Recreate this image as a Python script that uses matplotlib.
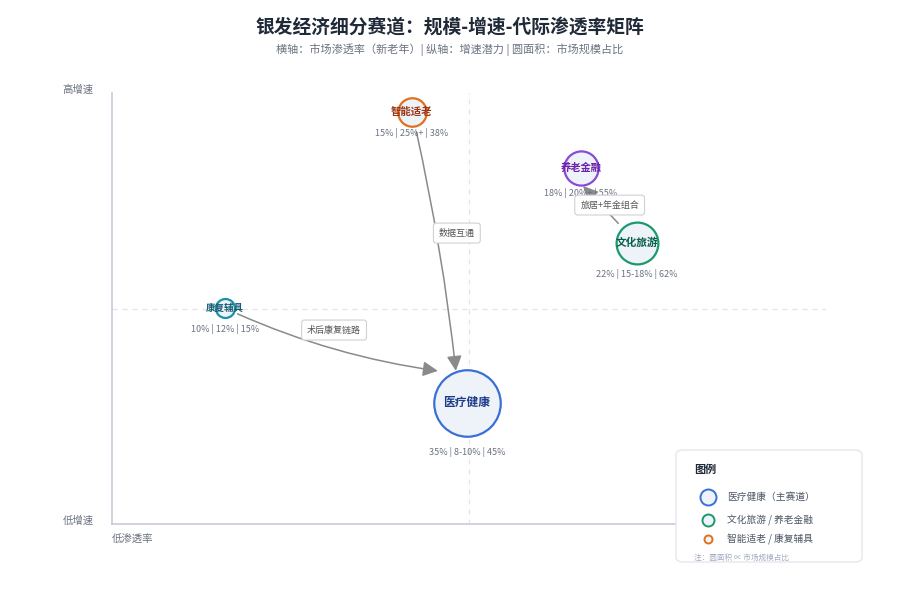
import matplotlib
matplotlib.use("Agg")
import matplotlib.pyplot as plt
from matplotlib.patches import FancyBboxPatch
from matplotlib.lines import Line2D

plt.rcParams['font.family'] = ['Noto Sans CJK SC', 'DejaVu Sans']

# ---- data ----
names = ["医疗健康", "智能适老", "养老金融", "文化旅游", "康复辅具"]
pos_x = [49.7, 42.0, 65.7, 73.5, 15.8]     # position on penetration axis
pos_y = [28.1, 95.6, 82.6, 65.2, 50.1]     # position on growth axis
share = [35, 15, 18, 22, 10]               # market scale share (%)
growth_txt = ["8-10%", "25%+", "20%+", "15-18%", "12%"]
penetration = [45, 38, 55, 62, 15]
edge_colors = ["#3a6fd8", "#e0701e", "#8a4ad8", "#1a9a6c", "#1a93a8"]
text_colors = ["#1e3a8a", "#9a3412", "#6b21a8", "#065f46", "#155e75"]
label_sizes = [8.5, 7.5, 7.4, 7.7, 6.8]

links_from = ["康复辅具", "智能适老", "文化旅游"]
links_to = ["医疗健康", "医疗健康", "养老金融"]
links_label = ["术后康复链路", "数据互通", "旅居+年金组合"]
# style / placement for links
label_xy = [(31.1, 45.0), (48.3, 67.5), (69.7, 74.0)]
end_offset_px = [(-29, -32), (-11, -32), (2, 18)]   # arrow tip relative to target centre (image px)
start_gap_px = [14, 20, 27]
link_rad = [0.075, -0.03, 0.0]

legend_items = ["医疗健康（主赛道）", "文化旅游 / 养老金融", "智能适老 / 康复辅具"]

# ---- figure ----
fig = plt.figure(figsize=(9, 6), dpi=100)
fig.patch.set_facecolor("white")
ax = fig.add_axes([112/900, 76/600, 714/900, 431/600])
ax.set_xlim(0, 100)
ax.set_ylim(0, 100)
ax.set_xticks([]); ax.set_yticks([])
for s in ["top", "right"]:
    ax.spines[s].set_visible(False)
for s in ["left", "bottom"]:
    ax.spines[s].set_color("#c9c9dc")
    ax.spines[s].set_linewidth(1.2)

ax.axvline(50, color="#e2e2ea", lw=0.9, ls=(0, (4, 4)), zorder=0)
ax.axhline(50, color="#e2e2ea", lw=0.9, ls=(0, (4, 4)), zorder=0)

PX_X = 100 / 714.0   # data units per pixel
PX_Y = 100 / 431.0

def rad_px(v):
    return v * 0.95

idx = {n: i for i, n in enumerate(names)}

# circles
for i, n in enumerate(names):
    r = rad_px(share[i])
    d_pt = 2 * r * 0.72
    ax.scatter([pos_x[i]], [pos_y[i]], s=d_pt**2, facecolor="#eef2f9",
               edgecolor=edge_colors[i], linewidth=1.6, zorder=3)
    ax.text(pos_x[i], pos_y[i], n, ha="center", va="center",
            fontsize=label_sizes[i], fontweight="bold", color=text_colors[i], zorder=5)
    stat = f"{share[i]}% | {growth_txt[i]} | {penetration[i]}%"
    off_px = max(1.47 * r, 21)
    ax.annotate(stat, (pos_x[i], pos_y[i]), xytext=(0, -off_px * 0.72),
                textcoords="offset points", ha="center", va="center",
                fontsize=6.5, color="#6b7280", zorder=5)

# links
for k in range(len(links_from)):
    ia, ib = idx[links_from[k]], idx[links_to[k]]
    ex = pos_x[ib] + end_offset_px[k][0] * PX_X
    ey = pos_y[ib] - end_offset_px[k][1] * PX_Y
    ax.annotate("", xy=(ex, ey), xytext=(pos_x[ia], pos_y[ia]),
                arrowprops=dict(arrowstyle="-|>,head_length=0.9,head_width=0.45",
                                color="#8a8a8a", lw=1.1,
                                shrinkA=start_gap_px[k] * 0.72, shrinkB=0,
                                connectionstyle=f"arc3,rad={link_rad[k]}"),
                zorder=2)
    lx, ly = label_xy[k]
    ax.text(lx, ly, links_label[k], ha="center", va="center", fontsize=6.5, color="#555555",
            zorder=6,
            bbox=dict(boxstyle="round,pad=0.6,rounding_size=0.3", fc="white",
                      ec="#cfd0d8", lw=0.8))

# axis end labels
fig.text(78/900, 1 - 90/600, "高增速", ha="center", va="center", fontsize=7.5, color="#6b7280")
fig.text(78/900, 1 - 521/600, "低增速", ha="center", va="center", fontsize=7.5, color="#6b7280")
fig.text(133/900, 1 - 540/600, "低渗透率", ha="center", va="center", fontsize=7.5, color="#6b7280")

# titles
fig.text(0.5, 1 - 27/600, "银发经济细分赛道：规模-增速-代际渗透率矩阵", ha="center", va="center",
         fontsize=13.5, fontweight="bold", color="#1f2937")
fig.text(0.5, 1 - 50/600, "横轴：市场渗透率（新老年）| 纵轴：增速潜力 | 圆面积：市场规模占比",
         ha="center", va="center", fontsize=8, color="#6b7280")

# legend box
box = FancyBboxPatch((676/900, 38/600), 186/900, 112/600,
                     boxstyle="round,pad=0,rounding_size=0.008",
                     transform=fig.transFigure, fc="white", ec="#e3e5ea", lw=0.9, zorder=10)
fig.add_artist(box)
fig.text(694/900, 1 - 469/600, "图例", ha="left", va="center", fontsize=8,
         fontweight="bold", color="#1f2937", zorder=11)
leg_y = [497, 520, 539]
leg_r = [8, 6, 4]
leg_c = [edge_colors[0], edge_colors[3], edge_colors[1]]
for t, yy, rr, cc in zip(legend_items, leg_y, leg_r, leg_c):
    m = Line2D([708/900], [1 - yy/600], marker="o", markersize=2 * rr * 0.72,
               markerfacecolor="#eef2f9", markeredgecolor=cc, markeredgewidth=1.4,
               linestyle="none", transform=fig.transFigure, zorder=11)
    fig.add_artist(m)
    fig.text(727/900, 1 - yy/600, t, ha="left", va="center", fontsize=7,
             color="#4b5563", zorder=11)
fig.text(694/900, 1 - 558/600, "注：圆面积 ∝ 市场规模占比", ha="left", va="center",
         fontsize=5.5, color="#a3aac2", zorder=11)

fig.savefig("out.png", dpi=100, facecolor="white")
